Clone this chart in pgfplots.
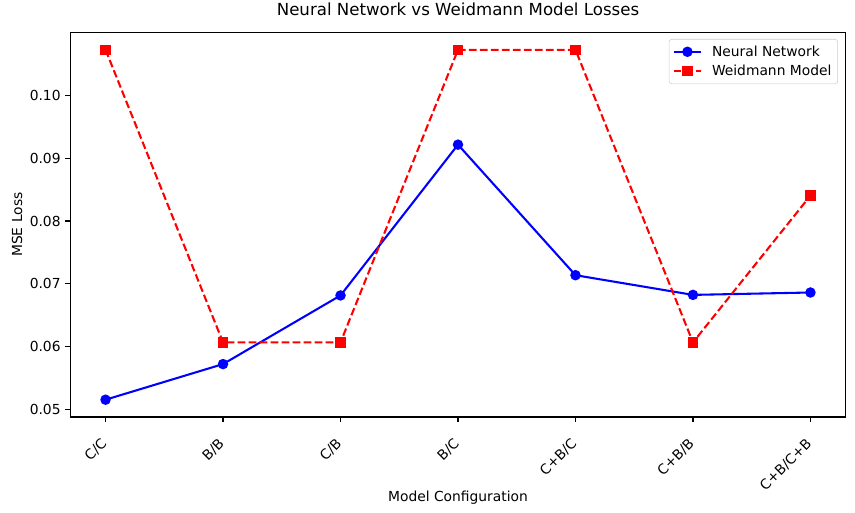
\documentclass[border=0pt]{standalone}
\usepackage{fontspec}
\setmainfont{DejaVu Sans}
\usepackage{pgfplots}
\pgfplotsset{compat=1.18}
\begin{document}
\begin{tikzpicture}
\useasboundingbox (0,0) rectangle (8.55in,5.13in);
\begin{axis}[
  at={(0.703in,0.96in)}, anchor=south west,
  scale only axis, width=7.754in, height=3.847in,
  xmin=-0.3, xmax=6.3, ymin=0.04884, ymax=0.10999,
  xtick={0,1,2,3,4,5,6},
  xticklabels={C/C,B/B,C/B,B/C,C+B/C,C+B/B,C+B/C+B},
  xticklabel style={rotate=45, anchor=north east, inner sep=0pt, xshift=-10.5pt, yshift=-5pt},
  ytick={0.05,0.06,0.07,0.08,0.09,0.10},
  scaled y ticks=false,
  /pgf/number format/assume math mode=true,
  yticklabel style={/pgf/number format/fixed, /pgf/number format/fixed zerofill, /pgf/number format/precision=2},
  tick align=outside, xtick pos=bottom, ytick pos=left,
  major tick length=3.5pt, minor tick num=0,
  every tick/.style={black, line width=0.8pt},
  axis line style={line width=0.8pt},
  title={Neural Network vs Weidmann Model Losses},
  title style={at={(0.5,1)}, anchor=south, inner sep=0pt, yshift=6pt, font=\fontsize{12}{14.4}\selectfont},
  xlabel={Model Configuration},
  xlabel style={at={(axis description cs:0.5,-0.220)}, anchor=base},
  ylabel={MSE Loss},
  ylabel style={at={(axis description cs:-0.0687,0.5)}, anchor=center, rotate=0},
  legend style={at={(axis description cs:0.990,0.9826)}, anchor=north east,
    draw=black!20, rounded corners=2pt, fill=white, inner sep=2.5pt,
    row sep=1pt, font=\fontsize{10}{12}\selectfont,
    /tikz/every odd column/.append style={column sep=5pt}},
  legend cell align=left,
  legend image code/.code={\draw[mark repeat=2,mark phase=2,#1] plot coordinates {(0pt,0pt) (10pt,0pt) (20pt,0pt)};},
]
\addplot[blue, line width=1.5pt, mark=*, mark size=3pt, mark options={solid}] coordinates {
  (0,0.05159) (1,0.05725) (2,0.06816) (3,0.09213) (4,0.07138) (5,0.06825) (6,0.06863)};
\addlegendentry{Neural Network}
\addplot[red, line width=1.5pt, dash pattern=on 5.55pt off 2.4pt, mark=square*, mark size=3pt, mark options={solid}] coordinates {
  (0,0.10721) (1,0.0607) (2,0.0607) (3,0.10721) (4,0.10721) (5,0.0607) (6,0.08403)};
\addlegendentry{Weidmann Model}
\end{axis}
\end{tikzpicture}
\end{document}
